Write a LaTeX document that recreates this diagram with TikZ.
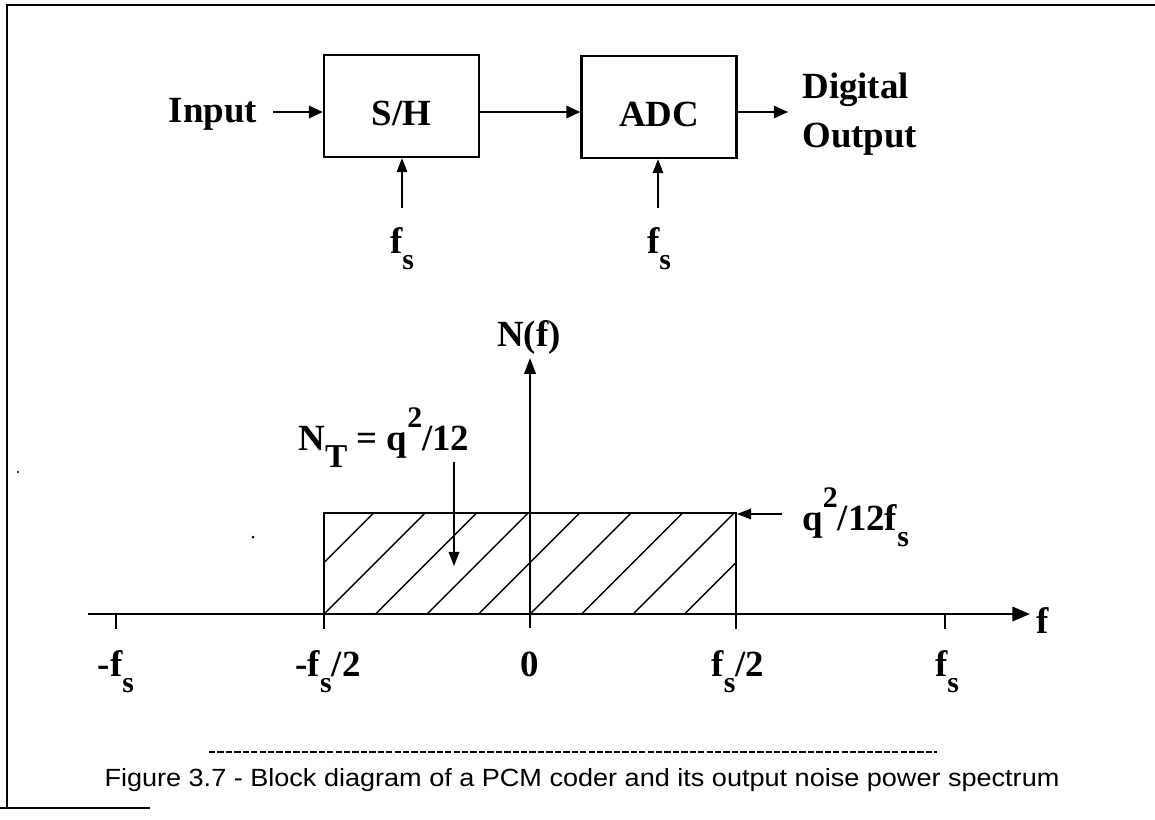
\documentclass[tikz,border=0pt]{standalone}
\usepackage{fontspec}
\setmainfont{Liberation Serif}
\newfontfamily\capfont{Liberation Sans}
\usetikzlibrary{arrows.meta}
\newcommand{\lowsub}[1]{\raisebox{-0.46em}{\fontsize{17}{17}\selectfont #1}}
\newcommand{\hisup}[1]{\raisebox{0.62em}{\fontsize{17}{17}\selectfont #1}}
\newcommand{\dn}[1]{\raisebox{-4pt}[0.69em][0em]{#1}}
\begin{document}
\begin{tikzpicture}[x=0.02cm,y=-0.02cm,
  lbl/.style={font=\fontsize{21}{24}\selectfont\bfseries, inner sep=0pt},
  blk/.style={draw, line width=1.3pt, minimum width=155*0.02cm, minimum height=102*0.02cm, inner sep=0pt, font=\fontsize{21}{24}\selectfont\bfseries},
  arr/.style={line width=1.2pt, -{Triangle[length=8pt,width=7pt]}},
  thin arr/.style={line width=1pt, -{Triangle[length=8pt,width=6pt]}},
  frame/.style={line width=1.6pt},
  hatch/.style={line width=0.8pt}]
\useasboundingbox (0,0) rectangle (1155,819);
% frame
\draw[frame] (1155,5) -- (7,5) -- (7,808);
\draw[frame] (0,808) -- (150,808);
% block diagram
\node[blk] (sh) at (401.5,106) {\dn{S/H}};
\node[blk] (adc) at (659,107) {\dn{ADC}};
\node[lbl] (in) at (213,114) {Input};
\node[lbl, anchor=west, align=left] (out) at (802,114) {Digital\\[4pt]Output};
\coordinate (inE) at (273,112);
\draw[arr] (inE) -- (inE -| sh.west);
\draw[arr] (sh.east |- 0,112) coordinate (shE) -- (shE -| adc.west);
\draw[arr] (adc.east |- 0,112) coordinate (adcE) -- (788,112) coordinate (outW);
\node[lbl, anchor=base] (fs1) at (402,253) {f\lowsub{s}};
\node[lbl, anchor=base] (fs2) at (659,253) {f\lowsub{s}};
\coordinate (c1) at (402,208);
\coordinate (c2) at (658,208);
\draw[thin arr] (c1) -- (c1 |- sh.south);
\draw[thin arr] (c2) -- (c2 |- adc.south);
% spectrum
\coordinate (o) at (530,614);
\coordinate (xl) at (88,614);
\coordinate (xr) at (1030,614);
\coordinate (yt) at (530,358);
\draw[hatch] (324,513) rectangle (736,614);
\begin{scope}
\clip (324,513) rectangle (736,614);
\foreach \k in {-2,...,8} {
  \draw[hatch] ({324+51.5*\k},614) -- ++(130,-130);
}
\end{scope}
\draw[line width=1.3pt] (324,513) -- (736,513);
\draw[line width=1.6pt, -{Triangle[length=10pt,width=8pt]}] (xl) -- (xr);
\draw[line width=1.2pt, -{Triangle[length=9pt,width=6.5pt]}] (530,628) -- (yt);
\foreach \x in {116,324,736,945} {
  \draw[line width=0.9pt] (\x,614) -- (\x,629);
}
\node[lbl, anchor=base] (Nf) at (529,346) {N(f)};
\node[lbl, anchor=west] (fx) at (1036,620) {f};
\node[lbl, anchor=base west] (NT) at (298,450) {N\raisebox{-0.48em}{\fontsize{19}{19}\selectfont T} = q\hisup{2}/12};
\node[lbl, anchor=base west] (q12) at (802,530) {q\hisup{2}/12f\lowsub{s}};
\coordinate (ntA) at (454,462);
\coordinate (ntB) at (454,566);
\draw[thin arr] (ntA) -- (ntB);
\coordinate (qA) at (782,514);
\draw[thin arr] (qA) -- (737,514);
\node[lbl, anchor=base] (t1) at (116,676) {-f\lowsub{s}};
\node[lbl, anchor=base] (t2) at (328,676) {-f\lowsub{s}/2};
\node[lbl, anchor=base] (t3) at (530,676) {0};
\node[lbl, anchor=base] (t4) at (738,676) {f\lowsub{s}/2};
\node[lbl, anchor=base] (t5) at (947,676) {f\lowsub{s}};
% caption
\draw[line width=1.5pt, dash pattern=on 3.6pt off 1.2pt] (209,752) -- (937,752);
\node[font=\capfont\fontsize{15.4}{17}\selectfont, inner sep=0pt] (cap) at (582,780) {\scalebox{1}[0.92]{Figure 3.7 - Block diagram of a PCM coder and its output noise power spectrum}};
% specks
\fill (253,537) circle (1.5);
\fill (18,472) circle (1.2);
\end{tikzpicture}
\end{document}
